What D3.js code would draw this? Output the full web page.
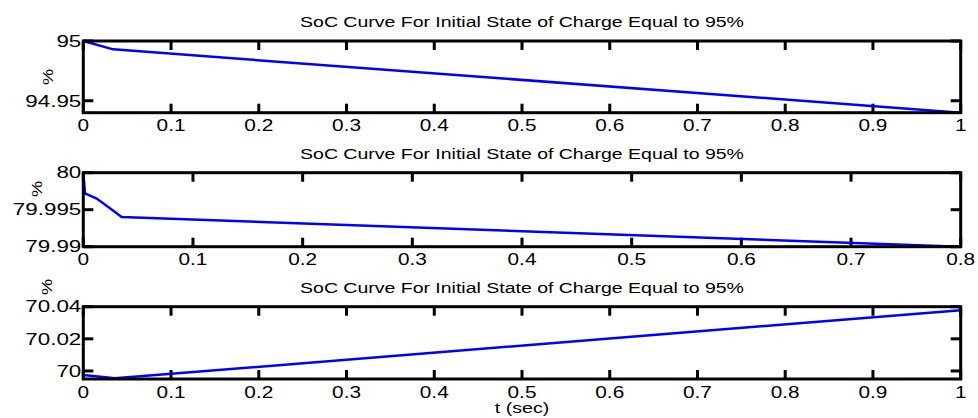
<!DOCTYPE html>
<html>
<head>
<meta charset="utf-8">
<script src="https://cdn.jsdelivr.net/npm/d3@7"></script>
<style>
  body { margin: 0; background: #fff; }
  text { font-family: "Liberation Sans", Arial, sans-serif; fill: #000; }
</style>
</head>
<body>
<svg id="chart" width="978" height="418"></svg>
<script>
// SoC data (time in sec, SoC in %)
var titleText = 'SoC Curve For Initial State of Charge Equal to 95%';

var t1 = [0, 0.034, 1];
var soc1 = [95.0, 94.993, 94.940];
var yTicks1 = [94.95, 95];

var t2 = [0, 0.0016, 0.0122, 0.0243, 0.035, 0.8];
var soc2 = [80.0, 79.9972, 79.9965, 79.9952, 79.9940, 79.9900];
var yTicks2 = [79.99, 79.995, 80];

var t3 = [0, 0.036, 1];
var soc3 = [69.9975, 69.9954, 70.0378];
var yTicks3 = [70, 70.02, 70.04];

var panels = [
  { t: t1, v: soc1, xMax: 1, yDom: [94.94, 95], yTicks: yTicks1, top: 41, bottom: 112.7, labY: 77, labX: 48 },
  { t: t2, v: soc2, xMax: 0.8, yDom: [79.99, 80], yTicks: yTicks2, top: 172.7, bottom: 246.7, labY: 189, labX: 37 },
  { t: t3, v: soc3, xMax: 1, yDom: [69.995, 70.04], yTicks: yTicks3, top: 306.7, bottom: 379, labY: 287, labX: 47 }
];

var left = 83.3, right = 960.7;
var sx = 1.3; // text in the picture is stretched sideways
var svg = d3.select('#chart');

function label(g, x, y, str, size, anchor, rot, stretch) {
  var tr = 'translate(' + x + ',' + y + ')' + (rot ? ' rotate(' + rot + ')' : '') +
    ' scale(' + (stretch || sx) + ',1)';
  g.append('text')
    .attr('transform', tr)
    .attr('text-anchor', anchor)
    .attr('dominant-baseline', 'central')
    .style('font-size', size + 'px')
    .text(str);
}

panels.forEach(function(p) {
  var x = d3.scaleLinear().domain([0, p.xMax]).range([left, right]);
  var y = d3.scaleLinear().domain(p.yDom).range([p.bottom, p.top]);
  var g = svg.append('g');
  var xTicks = d3.range(0, Math.round(p.xMax * 10) + 1).map(function(i) { return i / 10; });

  // inward tick marks on all four sides
  var tk = g.append('g').attr('fill', '#000');
  xTicks.forEach(function(d) {
    tk.append('rect').attr('x', x(d) - 1.5).attr('y', p.bottom - 9).attr('width', 3).attr('height', 9);
    tk.append('rect').attr('x', x(d) - 1.5).attr('y', p.top).attr('width', 3).attr('height', 9);
  });
  p.yTicks.forEach(function(d) {
    tk.append('rect').attr('x', left).attr('y', y(d) - 1.5).attr('width', 10).attr('height', 3);
    tk.append('rect').attr('x', right - 10).attr('y', y(d) - 1.5).attr('width', 10).attr('height', 3);
  });

  xTicks.forEach(function(d) {
    label(g, x(d), p.bottom + 13, d3.format('~g')(d), 16, 'middle');
  });
  p.yTicks.forEach(function(d) {
    label(g, left - 2, y(d), d3.format('~g')(d), 16, 'end', 0, 1.4);
  });

  // the curve
  var line = d3.line().x(function(d, i) { return x(p.t[i]); }).y(function(d) { return y(d); });
  g.append('path').datum(p.v).attr('d', line)
    .attr('fill', 'none').attr('stroke', '#0000ff').attr('stroke-width', 2.5);

  // box
  g.append('rect').attr('x', left).attr('y', p.top).attr('width', right - left).attr('height', p.bottom - p.top)
    .attr('fill', 'none').attr('stroke', '#000').attr('stroke-width', 3);

  label(g, (left + right) / 2, p.top - 19, titleText, 15, 'middle');
  label(g, p.labX, p.labY, '%', 14, 'middle', -90);
});

label(svg, (left + right) / 2, 408, 't (sec)', 14, 'middle', 0, 1.4);
</script>
</body>
</html>
